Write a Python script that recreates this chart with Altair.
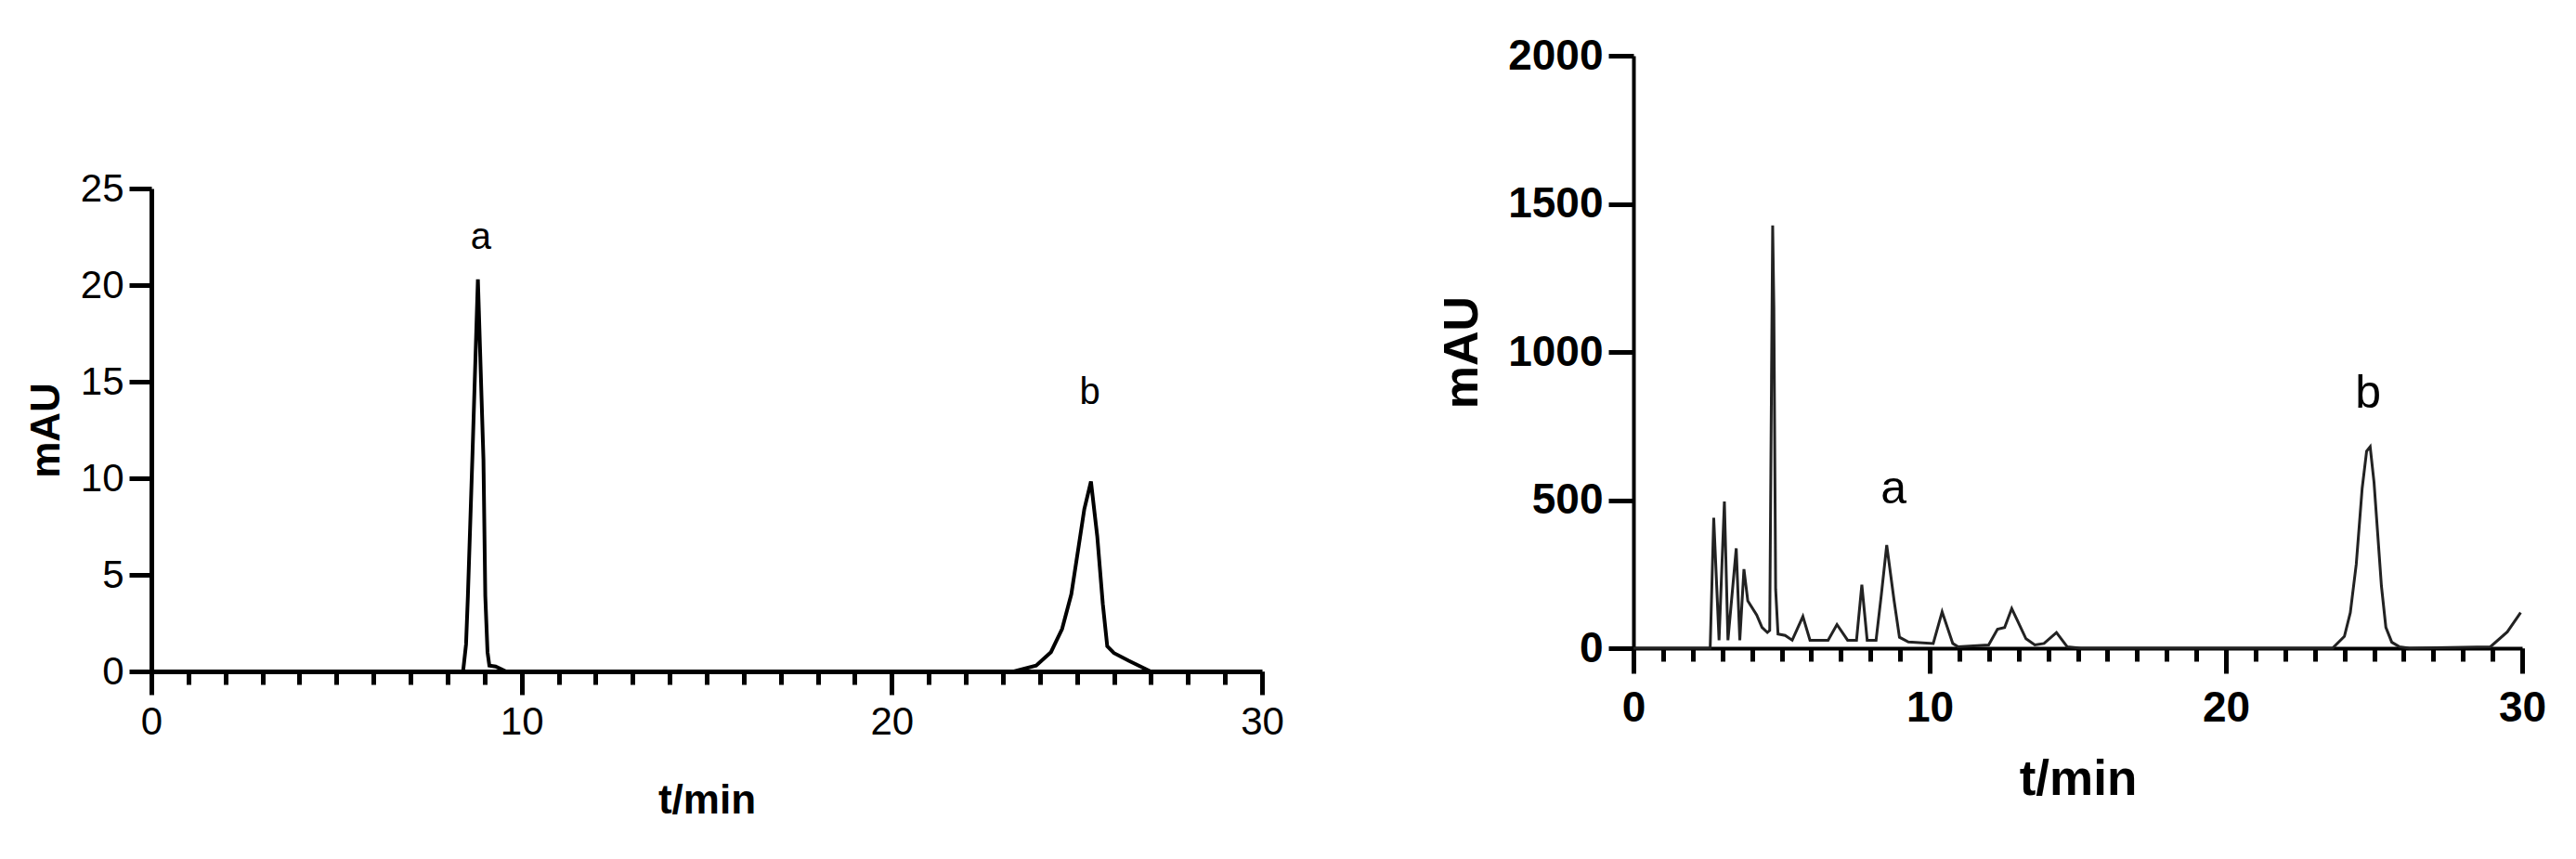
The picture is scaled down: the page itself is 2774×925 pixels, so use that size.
import altair as alt
import pandas as pd

# ---- Left chromatogram (standard) ----
left_t = [0.0, 8.42, 8.5, 8.55, 8.67, 8.82, 8.97, 9.02, 9.08, 9.13, 9.3, 9.58,
          23.3, 23.9, 24.3, 24.6, 24.85, 25.05, 25.2, 25.38, 25.55, 25.7, 25.82,
          26.0, 26.4, 26.99, 30.0]
left_v = [0, 0, 1.4, 3.9, 11.0, 20.3, 11.0, 3.9, 1.0, 0.3, 0.25, 0,
          0, 0.3, 1.0, 2.2, 4.0, 6.5, 8.4, 9.83, 7.0, 3.5, 1.3,
          0.95, 0.55, 0, 0]
left_labels = ["a", "b"]
left_label_t = [8.9, 25.35]
left_label_v = [22.45, 14.4]

# ---- Right chromatogram (sample) ----
right_t = [0, 2.59, 2.71, 2.89, 3.07, 3.19, 3.47, 3.59, 3.73, 3.86,
           4.16, 4.34, 4.52, 4.6, 4.66, 4.7, 4.74, 4.8, 4.88, 5.12,
           5.36, 5.72, 5.96, 6.57, 6.87, 7.23, 7.53, 7.71, 7.89, 8.19,
           8.37, 8.55, 8.8, 8.98, 9.28, 10.12, 10.42, 10.78, 10.96, 11.99,
           12.29, 12.53, 12.77, 12.95, 13.25, 13.55, 13.86, 14.28, 14.64, 15.1,
           23.6, 24.0, 24.2, 24.4, 24.6, 24.75, 24.87, 25.0, 25.1, 25.25,
           25.4, 25.6, 25.85, 26.2, 28.93, 29.5, 29.95]
right_v = [0, 0, 440, 27, 495, 27, 337, 27, 267, 160,
           112, 70, 53, 60, 900, 1427, 1150, 200, 48, 43,
           27, 107, 27, 27, 80, 27, 27, 214, 27, 27,
           182, 348, 160, 37, 21, 16, 123, 16, 5, 11,
           64, 70, 134, 96, 32, 11, 16, 53, 5, 0,
           0, 40, 120, 283, 540, 665, 680, 560, 420, 210,
           70, 20, 5, 0, 5, 55, 120]
right_labels = ["a", "b"]
right_label_t = [8.78, 24.8]
right_label_v = [536, 860]

left_yticks = [0, 5, 10, 15, 20, 25]
right_yticks = [0, 500, 1000, 1500, 2000]
major_xticks = [0, 10, 20, 30]
minor_xticks = list(range(0, 31))

left_df = pd.DataFrame({"t": left_t, "v": left_v})
left_lab = pd.DataFrame({"t": left_label_t, "v": left_label_v, "label": left_labels})
right_df = pd.DataFrame({"t": right_t, "v": right_v})
right_lab = pd.DataFrame({"t": right_label_t, "v": right_label_v, "label": right_labels})

SANS = "Liberation Sans, Arial"
XSCALE = alt.Scale(domain=[0, 30], nice=False, zero=False)

# ---------------- Left panel ----------------
LW, LH = 1196, 663
lx_major = alt.X("t:Q", scale=XSCALE,
                 axis=alt.Axis(values=major_xticks, orient="bottom", tickSize=25, tickWidth=5,
                               domainWidth=5, domainColor="black", tickColor="black",
                               labelFont=SANS, labelFontSize=42, labelColor="black",
                               labelPadding=9, labelFlush=False, format="d",
                               title="t/min", titleFont=SANS, titleFontSize=44,
                               titleFontWeight="bold", titleColor="black",
                               titleBaseline="alphabetic", titleY=152, grid=False))
lx_minor = alt.X("t:Q", scale=XSCALE,
                 axis=alt.Axis(values=minor_xticks, orient="bottom", tickSize=14, tickWidth=5,
                               tickColor="black", domain=False, labels=False, title=None,
                               grid=False))
ly = alt.Y("v:Q", scale=alt.Scale(domain=[0, 25], nice=False, range=[LH, LH - 520]),
           axis=alt.Axis(values=left_yticks, tickSize=24, tickWidth=5, domainWidth=5,
                         domainColor="black", tickColor="black", format="d",
                         labelFont=SANS, labelFontSize=42, labelColor="black", labelPadding=6,
                         title="mAU", titleFont=SANS, titleFontSize=44, titleFontWeight="bold",
                         titleColor="black", titleBaseline="alphabetic", titleX=-100, grid=False))
left_line = alt.Chart(left_df).mark_line(color="black", strokeWidth=4).encode(x=lx_major, y=ly)
left_text = alt.Chart(left_lab).mark_text(font=SANS, fontSize=40, color="black",
                                          baseline="middle", align="center").encode(
    x=lx_minor, y=ly, text="label:N")
left = alt.layer(left_line, left_text).resolve_axis(x="independent").properties(
    width=LW, height=LH)

# ---------------- Right panel ----------------
RW, RH = 957, 638
rx_major = alt.X("t:Q", scale=XSCALE,
                 axis=alt.Axis(values=major_xticks, orient="bottom", tickSize=27, tickWidth=5,
                               domainWidth=4, domainColor="black", tickColor="black",
                               labelFont=SANS, labelFontSize=46, labelFontWeight="bold",
                               labelColor="black", labelPadding=15, labelFlush=False, format="d",
                               title="t/min", titleFont=SANS, titleFontSize=53,
                               titleFontWeight="bold", titleColor="black",
                               titleBaseline="alphabetic", titleY=157, grid=False))
rx_minor = alt.X("t:Q", scale=XSCALE,
                 axis=alt.Axis(values=minor_xticks, orient="bottom", tickSize=14, tickWidth=5,
                               tickColor="black", domain=False, labels=False, title=None,
                               grid=False))
ry = alt.Y("v:Q", scale=alt.Scale(domain=[0, 2000], nice=False),
           axis=alt.Axis(values=right_yticks, tickSize=27, tickWidth=5, domainWidth=4,
                         domainColor="black", tickColor="black", format="d",
                         labelFont=SANS, labelFontSize=46, labelFontWeight="bold",
                         labelColor="black", labelPadding=6,
                         title="mAU", titleFont=SANS, titleFontSize=52, titleFontWeight="bold",
                         titleColor="black", titleBaseline="alphabetic", titleX=-169, grid=False))
right_line = alt.Chart(right_df).mark_line(color="#222222", strokeWidth=3).encode(x=rx_major, y=ry)
right_text = alt.Chart(right_lab).mark_text(font=SANS, fontSize=50, color="black",
                                            baseline="middle", align="center").encode(
    x=rx_minor, y=ry, text="label:N")
right = alt.layer(right_line, right_text).resolve_axis(x="independent").properties(
    width=RW, height=RH)

chart = alt.hconcat(left, right, spacing=165).properties(
    padding={"left": 20, "top": 29, "right": 0, "bottom": 0},
    background="white",
).configure_view(stroke=None)

chart.save("out.html", embed_options={"renderer": "svg", "actions": False})
